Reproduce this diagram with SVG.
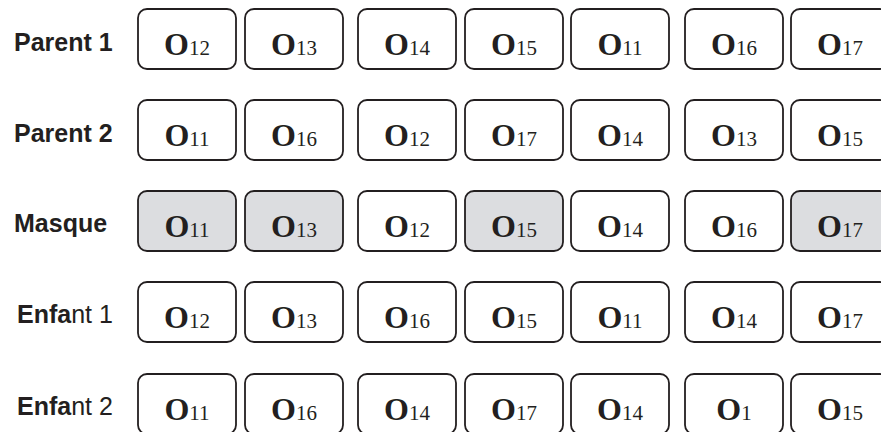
<svg xmlns="http://www.w3.org/2000/svg" width="881" height="432" viewBox="0 0 881 432">
<style>
.box{fill:#ffffff;stroke:#231f20;stroke-width:1.8}
.box.m{fill:#dcdde0}
.lbl{font-family:"Liberation Sans",Arial,sans-serif;font-size:25px;fill:#231f20}
.b{font-weight:bold}
.o{font-family:"Liberation Serif","Times New Roman",serif;font-size:32px;font-weight:bold;fill:#231f20}
.s{font-family:"Liberation Serif","Times New Roman",serif;font-size:21px;font-weight:normal;fill:#231f20}
</style>
<defs>
<rect id="cell" x="0" y="0" width="98" height="60" rx="9" ry="9"/>
</defs>
<rect width="881" height="432" fill="#ffffff"/>
<g id="labels">
<text class="lbl b" x="14" y="50.5">Parent 1</text>
<text class="lbl b" x="14" y="141.5">Parent 2</text>
<text class="lbl b" x="14" y="232">Masque</text>
<text class="lbl" x="17" y="323"><tspan class="b">Enfa</tspan>nt 1</text>
<text class="lbl" x="17" y="415"><tspan class="b">Enfa</tspan>nt 2</text>
</g>
<g id="connectors"/>
<g id="row1">
<g id="r1c1"><rect class="box" x="138" y="9" width="98" height="60" rx="9"/><text x="187" y="55" text-anchor="middle"><tspan class="o">O</tspan><tspan class="s">12</tspan></text></g>
<g id="r1c2"><rect class="box" x="245" y="9" width="98" height="60" rx="9"/><text x="294" y="55" text-anchor="middle"><tspan class="o">O</tspan><tspan class="s">13</tspan></text></g>
<g id="r1c3"><rect class="box" x="358" y="9" width="98" height="60" rx="9"/><text x="407" y="55" text-anchor="middle"><tspan class="o">O</tspan><tspan class="s">14</tspan></text></g>
<g id="r1c4"><rect class="box" x="465" y="9" width="98" height="60" rx="9"/><text x="514" y="55" text-anchor="middle"><tspan class="o">O</tspan><tspan class="s">15</tspan></text></g>
<g id="r1c5"><rect class="box" x="571" y="9" width="98" height="60" rx="9"/><text x="620" y="55" text-anchor="middle"><tspan class="o">O</tspan><tspan class="s">11</tspan></text></g>
<g id="r1c6"><rect class="box" x="685" y="9" width="98" height="60" rx="9"/><text x="734" y="55" text-anchor="middle"><tspan class="o">O</tspan><tspan class="s">16</tspan></text></g>
<g id="r1c7"><rect class="box" x="791" y="9" width="98" height="60" rx="9"/><text x="840" y="55" text-anchor="middle"><tspan class="o">O</tspan><tspan class="s">17</tspan></text></g>
</g>
<g id="row2">
<g id="r2c1"><rect class="box" x="138" y="100" width="98" height="60" rx="9"/><text x="187" y="146" text-anchor="middle"><tspan class="o">O</tspan><tspan class="s">11</tspan></text></g>
<g id="r2c2"><rect class="box" x="245" y="100" width="98" height="60" rx="9"/><text x="294" y="146" text-anchor="middle"><tspan class="o">O</tspan><tspan class="s">16</tspan></text></g>
<g id="r2c3"><rect class="box" x="358" y="100" width="98" height="60" rx="9"/><text x="407" y="146" text-anchor="middle"><tspan class="o">O</tspan><tspan class="s">12</tspan></text></g>
<g id="r2c4"><rect class="box" x="465" y="100" width="98" height="60" rx="9"/><text x="514" y="146" text-anchor="middle"><tspan class="o">O</tspan><tspan class="s">17</tspan></text></g>
<g id="r2c5"><rect class="box" x="571" y="100" width="98" height="60" rx="9"/><text x="620" y="146" text-anchor="middle"><tspan class="o">O</tspan><tspan class="s">14</tspan></text></g>
<g id="r2c6"><rect class="box" x="685" y="100" width="98" height="60" rx="9"/><text x="734" y="146" text-anchor="middle"><tspan class="o">O</tspan><tspan class="s">13</tspan></text></g>
<g id="r2c7"><rect class="box" x="791" y="100" width="98" height="60" rx="9"/><text x="840" y="146" text-anchor="middle"><tspan class="o">O</tspan><tspan class="s">15</tspan></text></g>
</g>
<g id="row3">
<g id="r3c1"><rect class="box m" x="138" y="191" width="98" height="60" rx="9"/><text x="187" y="237" text-anchor="middle"><tspan class="o">O</tspan><tspan class="s">11</tspan></text></g>
<g id="r3c2"><rect class="box m" x="245" y="191" width="98" height="60" rx="9"/><text x="294" y="237" text-anchor="middle"><tspan class="o">O</tspan><tspan class="s">13</tspan></text></g>
<g id="r3c3"><rect class="box" x="358" y="191" width="98" height="60" rx="9"/><text x="407" y="237" text-anchor="middle"><tspan class="o">O</tspan><tspan class="s">12</tspan></text></g>
<g id="r3c4"><rect class="box m" x="465" y="191" width="98" height="60" rx="9"/><text x="514" y="237" text-anchor="middle"><tspan class="o">O</tspan><tspan class="s">15</tspan></text></g>
<g id="r3c5"><rect class="box" x="571" y="191" width="98" height="60" rx="9"/><text x="620" y="237" text-anchor="middle"><tspan class="o">O</tspan><tspan class="s">14</tspan></text></g>
<g id="r3c6"><rect class="box" x="685" y="191" width="98" height="60" rx="9"/><text x="734" y="237" text-anchor="middle"><tspan class="o">O</tspan><tspan class="s">16</tspan></text></g>
<g id="r3c7"><rect class="box m" x="791" y="191" width="98" height="60" rx="9"/><text x="840" y="237" text-anchor="middle"><tspan class="o">O</tspan><tspan class="s">17</tspan></text></g>
</g>
<g id="row4">
<g id="r4c1"><rect class="box" x="138" y="282" width="98" height="60" rx="9"/><text x="187" y="328" text-anchor="middle"><tspan class="o">O</tspan><tspan class="s">12</tspan></text></g>
<g id="r4c2"><rect class="box" x="245" y="282" width="98" height="60" rx="9"/><text x="294" y="328" text-anchor="middle"><tspan class="o">O</tspan><tspan class="s">13</tspan></text></g>
<g id="r4c3"><rect class="box" x="358" y="282" width="98" height="60" rx="9"/><text x="407" y="328" text-anchor="middle"><tspan class="o">O</tspan><tspan class="s">16</tspan></text></g>
<g id="r4c4"><rect class="box" x="465" y="282" width="98" height="60" rx="9"/><text x="514" y="328" text-anchor="middle"><tspan class="o">O</tspan><tspan class="s">15</tspan></text></g>
<g id="r4c5"><rect class="box" x="571" y="282" width="98" height="60" rx="9"/><text x="620" y="328" text-anchor="middle"><tspan class="o">O</tspan><tspan class="s">11</tspan></text></g>
<g id="r4c6"><rect class="box" x="685" y="282" width="98" height="60" rx="9"/><text x="734" y="328" text-anchor="middle"><tspan class="o">O</tspan><tspan class="s">14</tspan></text></g>
<g id="r4c7"><rect class="box" x="791" y="282" width="98" height="60" rx="9"/><text x="840" y="328" text-anchor="middle"><tspan class="o">O</tspan><tspan class="s">17</tspan></text></g>
</g>
<g id="row5">
<g id="r5c1"><rect class="box" x="138" y="374" width="98" height="60" rx="9"/><text x="187" y="420" text-anchor="middle"><tspan class="o">O</tspan><tspan class="s">11</tspan></text></g>
<g id="r5c2"><rect class="box" x="245" y="374" width="98" height="60" rx="9"/><text x="294" y="420" text-anchor="middle"><tspan class="o">O</tspan><tspan class="s">16</tspan></text></g>
<g id="r5c3"><rect class="box" x="358" y="374" width="98" height="60" rx="9"/><text x="407" y="420" text-anchor="middle"><tspan class="o">O</tspan><tspan class="s">14</tspan></text></g>
<g id="r5c4"><rect class="box" x="465" y="374" width="98" height="60" rx="9"/><text x="514" y="420" text-anchor="middle"><tspan class="o">O</tspan><tspan class="s">17</tspan></text></g>
<g id="r5c5"><rect class="box" x="571" y="374" width="98" height="60" rx="9"/><text x="620" y="420" text-anchor="middle"><tspan class="o">O</tspan><tspan class="s">14</tspan></text></g>
<g id="r5c6"><rect class="box" x="685" y="374" width="98" height="60" rx="9"/><text x="734" y="420" text-anchor="middle"><tspan class="o">O</tspan><tspan class="s">1</tspan></text></g>
<g id="r5c7"><rect class="box" x="791" y="374" width="98" height="60" rx="9"/><text x="840" y="420" text-anchor="middle"><tspan class="o">O</tspan><tspan class="s">15</tspan></text></g>
</g>
</svg>
